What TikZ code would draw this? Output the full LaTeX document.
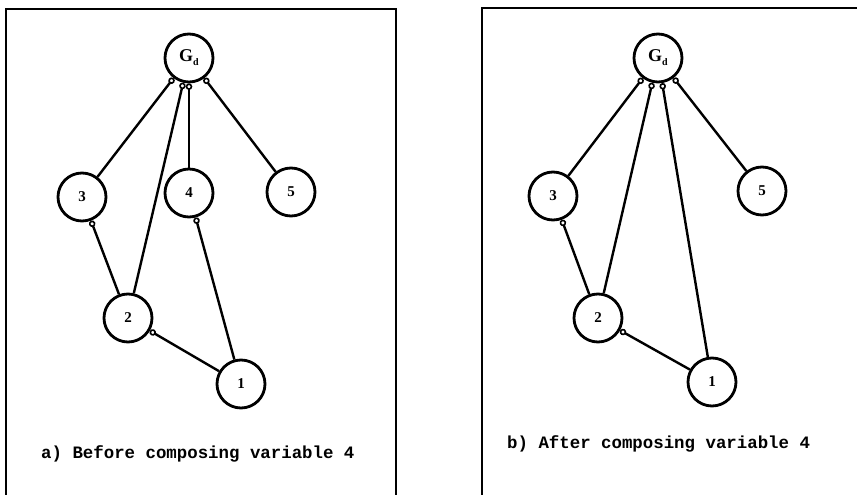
\documentclass[tikz,border=0pt]{standalone}
\usepackage{fontspec}
\setmainfont{Liberation Serif}
\setmonofont{Liberation Mono}
\usetikzlibrary{arrows.meta}
\tikzset{
  var/.style={circle, draw, line width=2.8pt, minimum size=48pt, inner sep=0pt,
              font=\fontsize{15}{15}\selectfont\bfseries},
  link/.style={line width=2.4pt,
               -{Circle[open, length=6.5pt, width=6.5pt, line width=1.6pt]}},
  frame/.style={line width=2.2pt},
  caption/.style={font=\fontsize{17.4}{17.4}\selectfont\ttfamily\bfseries, anchor=west, inner sep=0pt}
}
\newcommand{\goalG}{{\fontsize{18}{18}\selectfont G}\raisebox{-0.6ex}{\fontsize{10}{10}\selectfont d}}
\begin{document}
\begin{tikzpicture}[x=1pt, y=-1pt]
\useasboundingbox (0,0) rectangle (857,495);
\begin{scope}
\clip (0,0) rectangle (857,495);
% panel frames
\draw[frame] (6,500) -- (6,9) -- (396,9) -- (396,500);
\draw[frame] (482,500) -- (482,8) -- (870,8);
\end{scope}

% ---- panel a ----
\node[var] (ga) at (189,58) {\goalG};
\node[var] (a3) at (82,197) {3};
\node[var] (a4) at (189,193) {4};
\node[var] (a5) at (291,192) {5};
\node[var] (a2) at (128,318) {2};
\node[var] (a1) at (241,384) {1};
\draw[link] (a3) -- (ga);
\draw[link] (a2) -- (ga);
\draw[link] (a4) -- (ga);
\draw[link] (a5) -- (ga);
\draw[link] (a2) -- (a3);
\draw[link] (a1) -- (a4);
\draw[link] (a1) -- (a2);
\node[caption] (capa) at (41,454) {a) Before composing variable 4};

% ---- panel b ----
\node[var] (gb) at (658,58) {\goalG};
\node[var] (b3) at (553,196) {3};
\node[var] (b5) at (762,191) {5};
\node[var] (b2) at (598,318) {2};
\node[var] (b1) at (712,382) {1};
\draw[link] (b3) -- (gb);
\draw[link] (b2) -- (gb);
\draw[link] (b1) -- (gb);
\draw[link] (b5) -- (gb);
\draw[link] (b2) -- (b3);
\draw[link] (b1) -- (b2);
\node[caption] (capb) at (507,444) {b) After composing variable 4};
\end{tikzpicture}
\end{document}
